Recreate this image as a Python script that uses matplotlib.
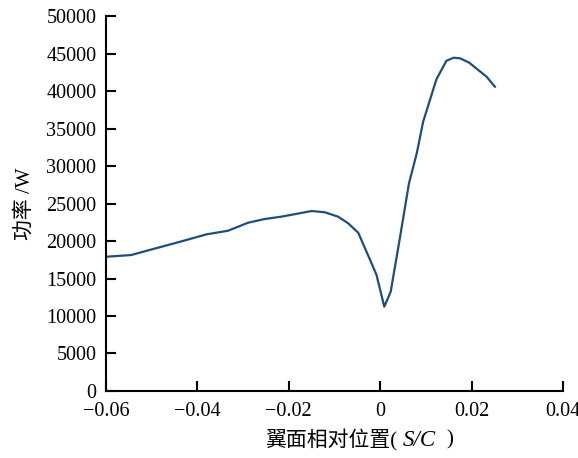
import numpy as np
import matplotlib
matplotlib.use("Agg")
import matplotlib.pyplot as plt

plt.rcParams['font.family'] = ['Liberation Serif', 'Noto Sans CJK SC']

# position along airfoil (S/C) and power (W)
pos = [-0.0600, -0.0545, -0.0497, -0.0438, -0.0380, -0.0333, -0.0289, -0.0253,
       -0.0217, -0.0177, -0.0150, -0.0121, -0.0092, -0.0070, -0.0048, -0.0022,
       -0.0008, 0.0009, 0.0023, 0.0043, 0.0063, 0.0080, 0.0094, 0.0123,
       0.0145, 0.0161, 0.0175, 0.0195, 0.0233, 0.0251]
power = [17900, 18130, 18930, 19900, 20890, 21370, 22440, 22930,
         23240, 23690, 24000, 23830, 23240, 22360, 21100, 17470,
         15470, 11240, 13240, 20360, 27690, 31690, 35900, 41560,
         44040, 44440, 44360, 43770, 41900, 40570]

fig = plt.figure(figsize=(5.78, 4.58), dpi=100)
ax = fig.add_axes([0.1834, 0.1463, 0.7906, 0.8187])
ax.plot(pos, power, color='#1f4e7a', lw=1.6)

ax.set_xlim(-0.06, 0.04)
ax.set_ylim(0, 50000)
ax.set_xticks([-0.06, -0.04, -0.02, 0, 0.02, 0.04])
ax.set_xticklabels(['\u22120.06', '\u22120.04', '\u22120.02', '0', '0.02', '0.04'])
ax.set_yticks(np.arange(0, 50001, 5000))

for s in ['top', 'right']:
    ax.spines[s].set_visible(False)
for s in ['left', 'bottom']:
    ax.spines[s].set_linewidth(1.5)
ax.tick_params(direction='in', length=7, width=1.5, labelsize=14.5)
ax.tick_params(axis='x', pad=8)
ax.tick_params(axis='y', pad=7)

# x label in pieces so S/C can be italic
fig.text(265 / 578, 0.039, '翼面相对位置(', fontsize=15, va='center', ha='left')
fig.text(403 / 578, 0.039, 'S/C', fontsize=16.5, style='italic', va='center', ha='left')
fig.text(446 / 578, 0.039, ')', fontsize=15, va='center', ha='left')
ax.set_ylabel('功率 /W', fontsize=15, labelpad=8)

fig.savefig('out.png', dpi=100)
